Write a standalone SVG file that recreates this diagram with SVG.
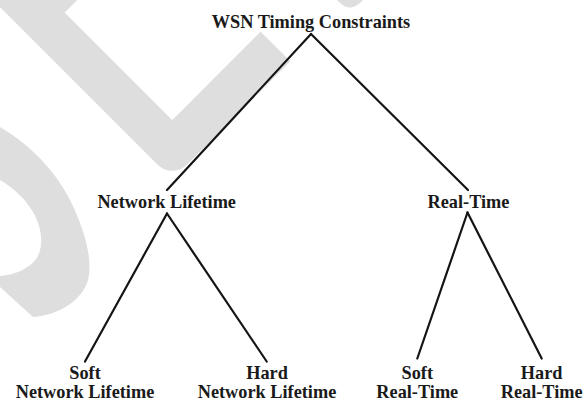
<svg xmlns="http://www.w3.org/2000/svg" width="584" height="402" viewBox="0 0 584 402">
  <style>
    .wm { fill: none; stroke: #dedede; stroke-width: 42; stroke-linejoin: round; }
    .wmf { fill: #dedede; stroke: none; }
    .edge { stroke: #151515; stroke-width: 2.2; fill: none; stroke-linecap: round; }
    .lbl { font-family: "Liberation Serif", "Times New Roman", serif; font-weight: bold; font-size: 18.3px; fill: #1a1a1a; text-anchor: middle; }
  </style>
  <rect width="584" height="402" fill="#ffffff"/>
  <g id="watermark">
    <path class="wm" d="M-40,-62.5 L172.25,149.75 L275.5,46.5"/>
    <path class="wm" d="M35,12.5 L100,-52.5"/>
    <path class="wmf" d="M0,127 C30,145 55,170 70,200 C85,230 93,260 88,280 C82,300 60,315 33,317 L0,287 L0,276 C15,275 30,268 37,258 C44,245 42,228 33,212 C25,198 12,187 0,180 Z"/>
    <path class="wmf" d="M337,0 Q344,8 351,7.5 Q358,6 363,0 Z"/>
  </g>
  <g id="connectors">
    <line class="edge" x1="311" y1="34" x2="167" y2="190"/>
    <line class="edge" x1="311" y1="34" x2="468" y2="190"/>
    <line class="edge" x1="167" y1="213.5" x2="85" y2="361.5"/>
    <line class="edge" x1="167" y1="213.5" x2="266.7" y2="361.5"/>
    <line class="edge" x1="467.5" y1="212.5" x2="417.3" y2="358.5"/>
    <line class="edge" x1="467.5" y1="212.5" x2="541.7" y2="358.5"/>
  </g>
  <g id="root"><text class="lbl" x="311" y="27.5">WSN Timing Constraints</text></g>
  <g id="network-lifetime"><text class="lbl" x="166.7" y="207.5">Network Lifetime</text></g>
  <g id="real-time"><text class="lbl" x="468.5" y="207.5">Real-Time</text></g>
  <g id="soft-network-lifetime"><text class="lbl" x="85" y="378.5">Soft</text><text class="lbl" x="85" y="397.5">Network Lifetime</text></g>
  <g id="hard-network-lifetime"><text class="lbl" x="267" y="378.5">Hard</text><text class="lbl" x="267" y="397.5">Network Lifetime</text></g>
  <g id="soft-real-time"><text class="lbl" x="417.3" y="378.5">Soft</text><text class="lbl" x="417.3" y="397.5">Real-Time</text></g>
  <g id="hard-real-time"><text class="lbl" x="541.7" y="378.5">Hard</text><text class="lbl" x="541.7" y="397.5">Real-Time</text></g>
</svg>
